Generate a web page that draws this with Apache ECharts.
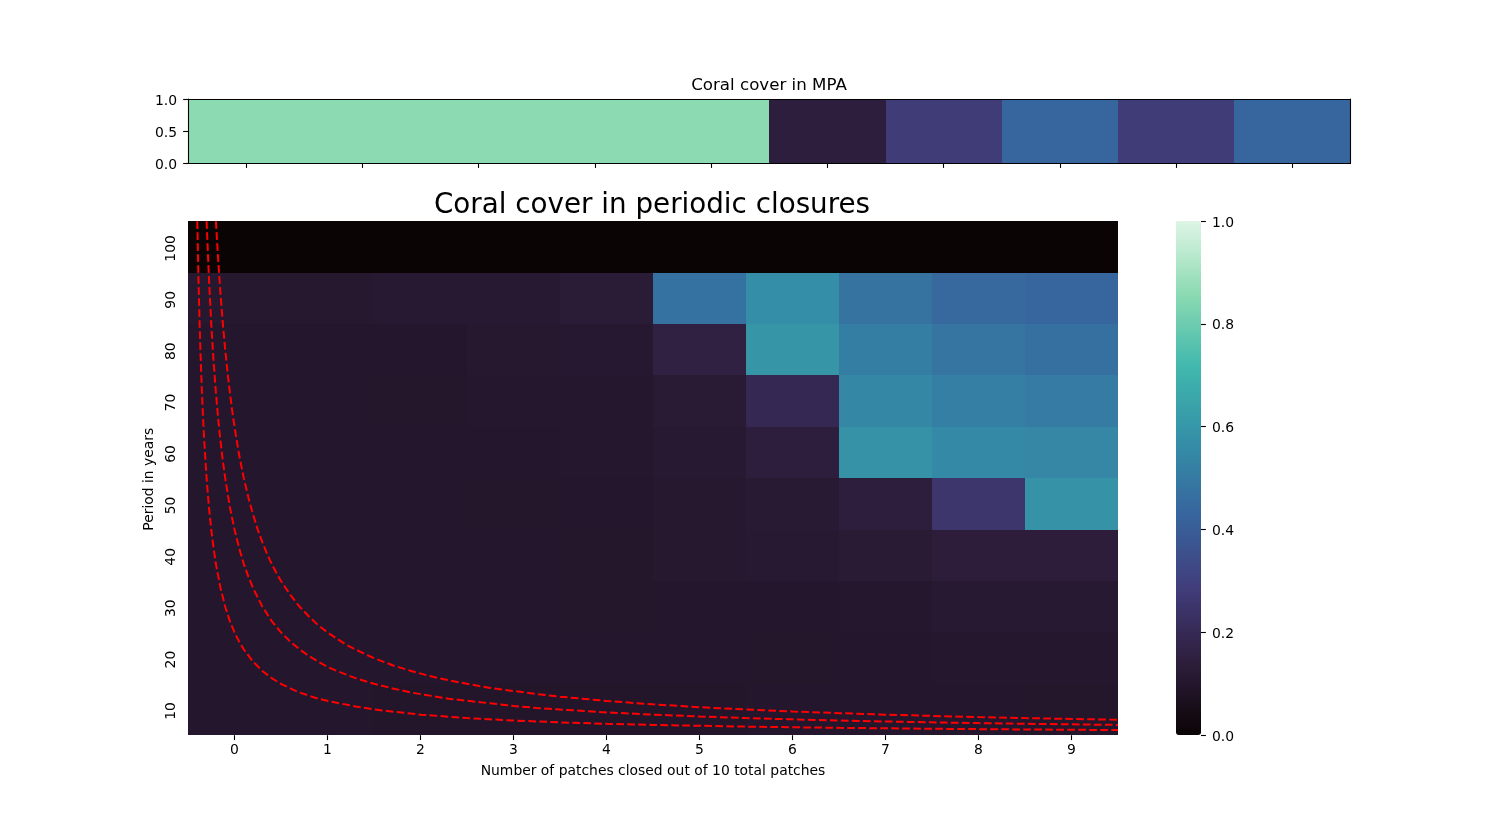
<!DOCTYPE html>
<html>
<head>
<meta charset="utf-8">
<style>html,body{margin:0;padding:0;background:#fff}#c{width:1500px;height:826px}</style>
<script src="https://cdn.jsdelivr.net/npm/echarts@6/dist/echarts.min.js"></script>
</head>
<body>
<div id="c"></div>
<script>
const patches = ['0','1','2','3','4','5','6','7','8','9'];
const periods = ['10','20','30','40','50','60','70','80','90','100'];
const mpaCover = [0.857,0.857,0.857,0.857,0.857,0.145,0.28,0.43,0.28,0.43];

const period10  = [0.100,0.100,0.099,0.099,0.099,0.099,0.100,0.100,0.101,0.102];
const period20  = [0.100,0.100,0.100,0.100,0.101,0.101,0.102,0.103,0.106,0.107];
const period30  = [0.100,0.100,0.100,0.101,0.102,0.103,0.104,0.107,0.116,0.118];
const period40  = [0.100,0.100,0.101,0.101,0.102,0.108,0.114,0.125,0.140,0.140];
const period50  = [0.100,0.100,0.101,0.102,0.103,0.110,0.120,0.145,0.254,0.582];
const period60  = [0.100,0.100,0.101,0.103,0.105,0.118,0.145,0.582,0.554,0.544];
const period70  = [0.101,0.101,0.102,0.105,0.107,0.125,0.194,0.547,0.517,0.504];
const period80  = [0.103,0.103,0.104,0.108,0.112,0.157,0.596,0.514,0.480,0.466];
const period90  = [0.110,0.110,0.113,0.118,0.128,0.473,0.568,0.476,0.443,0.430];
const period100 = [0,0,0,0,0,0,0,0,0,0];
const coverRows = [period10,period20,period30,period40,period50,period60,period70,period80,period90,period100];

const curve1X = [-0.2,-0.175,-0.15,-0.125,-0.1,-0.075,-0.05,-0.025,0,0.05,0.1,0.15,0.2,0.25,0.3,0.35,0.4,0.45,0.5,0.6,0.7,0.8,0.9,1,1.1,1.2,1.3,1.4,1.5,1.7,1.9,2.1,2.3,2.5,2.75,3,3.25,3.5,4,4.5,5,5.5,6,6.5,7,7.5,8,8.5,9,9.5];
const curve1Y = [105,97.3,90.7,85,80,75.6,71.7,68.2,65,59.5,55,51.2,47.9,45,42.5,40.3,38.3,36.6,35,32.3,30,28.1,26.4,25,23.8,22.6,21.7,20.8,20,18.6,17.5,16.5,15.7,15,14.2,13.6,13,12.5,11.67,11,10.45,10,9.62,9.29,9,8.75,8.53,8.33,8.16,8];
const curve2X = [-0.3,-0.275,-0.25,-0.225,-0.2,-0.175,-0.15,-0.125,-0.1,-0.05,0,0.05,0.1,0.15,0.2,0.3,0.4,0.5,0.6,0.7,0.8,0.9,1,1.1,1.3,1.5,1.7,1.9,2.1,2.3,2.5,2.75,3,3.25,3.5,4,4.5,5,5.5,6,6.5,7,7.5,8,8.5,9,9.5];
const curve2Y = [105,93.9,85,77.7,71.7,66.5,62.1,58.3,55,49.4,45,41.4,38.3,35.8,33.6,30,27.2,25,23.2,21.7,20.4,19.3,18.3,17.5,16.1,15,14.1,13.3,12.7,12.1,11.7,11.2,10.7,10.3,10,9.44,9,8.64,8.33,8.08,7.86,7.67,7.5,7.35,7.22,7.11,7];
const curve3X = [-0.4,-0.3875,-0.375,-0.3625,-0.35,-0.3375,-0.325,-0.3,-0.275,-0.25,-0.225,-0.2,-0.15,-0.1,-0.05,0,0.05,0.1,0.2,0.3,0.4,0.5,0.6,0.7,0.9,1.1,1.3,1.5,2,2.5,3,3.5,4,4.5,5.5,6.5,7.5,8.5,9.5];
const curve3Y = [105,93.9,85,77.7,71.7,66.5,62.1,55,49.4,45,41.4,38.3,33.6,30,27.2,25,23.2,21.7,19.3,17.5,16.1,15,14.1,13.3,12.1,11.3,10.6,10,9,8.33,7.86,7.5,7.22,7,6.67,6.43,6.25,6.11,6];

const makoStops = ['#0b0405','#2e1e3c','#413d7b','#37659e','#348fa7','#40b7ad','#8bdab2','#def5e5'];
const font = 'DejaVu Sans';

const cells = [];
coverRows.forEach((row,r)=>row.forEach((v,c)=>cells.push([c,r,v])));
const zip = (xs,ys)=>xs.map((x,i)=>[x,ys[i]]);
const curve = (xs,ys)=>({
  type:'line',xAxisIndex:3,yAxisIndex:3,data:zip(xs,ys),showSymbol:false,smooth:false,
  silent:true,z:5,lineStyle:{color:'#ff0000',width:2,type:[7.7,3.3]}
});
// one flat cell per value; edges come from the axes and snap to whole pixels
const cellItem = (params,api)=>{
  const c = api.coord([api.value(0),api.value(1)]);
  const s = api.size([1,1]);
  const x0 = Math.round(c[0]-s[0]/2), x1 = Math.round(c[0]+s[0]/2);
  const y0 = Math.round(c[1]-s[1]/2), y1 = Math.round(c[1]+s[1]/2);
  return {type:'rect',shape:{x:x0,y:y0,width:x1-x0,height:y1-y0},style:{fill:api.visual('color')}};
};
const cellSeries = (xIdx,yIdx,data)=>({
  type:'custom',xAxisIndex:xIdx,yAxisIndex:yIdx,data,renderItem:cellItem,silent:true,
  encode:{x:0,y:1},progressive:0,z:2
});
const tick = {show:true,length:4.9,lineStyle:{color:'#000',width:1.1}};
const line = {show:true,onZero:false,lineStyle:{color:'#000',width:1.1}};
const label = {color:'#000',fontFamily:font,fontSize:13.9};
const vLabel = {...label,formatter:v=>'{v|'+v.toFixed(1)+'}',
  rich:{v:{color:'#000',fontFamily:font,fontSize:13.9,padding:[4,0,0,0]}}};

const option = {
  animation:false,
  backgroundColor:'#fff',
  textStyle:{fontFamily:font},
  title:[
    {text:'Coral cover in MPA',left:769,top:77,textAlign:'center',padding:0,
     textStyle:{fontFamily:font,fontWeight:'normal',fontSize:16.67,color:'#000'}},
    {text:'Coral cover in periodic closures',left:652,top:192,textAlign:'center',padding:0,
     textStyle:{fontFamily:font,fontWeight:'normal',fontSize:27.78,color:'#000'}}
  ],
  grid:[
    {left:188,top:99,width:1162.5,height:64},
    {left:188,top:221.2,width:930,height:514},
    {left:1176,top:221,width:25,height:514}
  ],
  xAxis:[
    {type:'category',gridIndex:0,data:patches,position:'bottom',z:6,axisLine:line,axisTick:{...tick,alignWithLabel:true},axisLabel:{show:false},splitLine:{show:false}},
    {type:'category',gridIndex:0,data:patches,position:'top',z:6,axisLine:line,axisTick:{show:false},axisLabel:{show:false},splitLine:{show:false}},
    {type:'category',gridIndex:1,data:patches,position:'bottom',axisLine:{show:false},axisTick:{...tick,alignWithLabel:true},axisLabel:{...label,margin:8},splitLine:{show:false},
     name:'Number of patches closed out of 10 total patches',nameLocation:'middle',nameGap:29,nameTextStyle:{color:'#000',fontFamily:font,fontSize:13.9}},
    {type:'value',gridIndex:1,min:-0.5,max:9.5,show:false},
    {type:'category',gridIndex:2,data:[''],show:false}
  ],
  yAxis:[
    {type:'value',gridIndex:0,min:0,max:1,interval:0.5,position:'left',z:6,axisLine:line,axisTick:tick,
     axisLabel:{...vLabel,margin:11},splitLine:{show:false}},
    {type:'category',gridIndex:0,data:[''],position:'right',z:6,axisLine:line,axisTick:{show:false},axisLabel:{show:false},splitLine:{show:false}},
    {type:'category',gridIndex:1,data:periods,position:'left',axisLine:{show:false},axisTick:{...tick,alignWithLabel:true},
     axisLabel:{...label,rotate:90,margin:10,padding:[0,3,0,0]},splitLine:{show:false},
     name:'Period in years',nameLocation:'middle',nameGap:31,nameRotate:90,nameTextStyle:{color:'#000',fontFamily:font,fontSize:13.9,padding:[0,2,0,0]}},
    {type:'value',gridIndex:1,min:5,max:105,show:false},
    {type:'value',gridIndex:2,min:0,max:1,interval:0.2,position:'right',z:6,axisLine:{show:false},axisTick:tick,
     axisLabel:{...vLabel,margin:11},splitLine:{show:false}}
  ],
  visualMap:{
    type:'continuous',min:0,max:1,seriesIndex:[0,1],dimension:2,calculable:false,realtime:false,hoverLink:false,
    left:1176,top:221,itemWidth:25,itemHeight:514,padding:0,text:null,showLabel:false,
    inRange:{color:makoStops},textStyle:{fontSize:0}
  },
  series:[
    cellSeries(0,1,mpaCover.map((v,i)=>[i,0,v])),
    cellSeries(2,2,cells),
    curve(curve1X,curve1Y),
    curve(curve2X,curve2Y),
    curve(curve3X,curve3Y)
  ]
};
echarts.init(document.getElementById('c'),null,{renderer:'canvas'}).setOption(option);
</script>
</body>
</html>
